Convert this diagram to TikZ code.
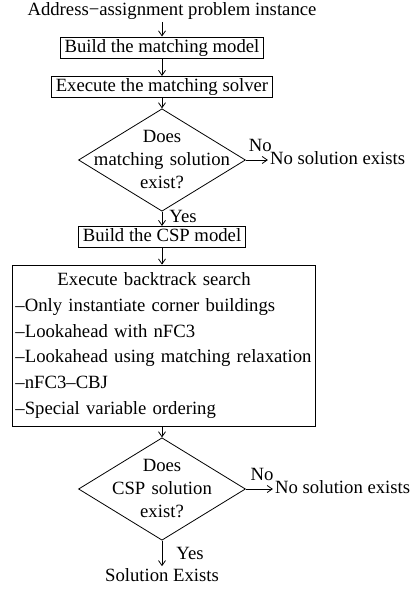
\documentclass[tikz,border=0pt]{standalone}
\usepackage{fontspec}
\setmainfont{Liberation Serif}
\usetikzlibrary{shapes.geometric, positioning, arrows.meta}
\tikzset{
    plain/.style = {inner sep=2pt, text height=13.1pt, text depth=4.1pt},
    process/.style = {rectangle, draw=black, line width=0.8pt, inner xsep=4.5pt, inner ysep=2pt, text height=13.1pt, text depth=4.1pt},
    listbox/.style = {rectangle, draw=black, line width=0.8pt, text width=296pt, align=left, inner xsep=3.5pt, inner ysep=7.5pt, font=\fontsize{18.7}{25.8}\selectfont},
    decision/.style = {diamond, aspect=1.63, draw=black, line width=0.8pt, text width=140pt, align=center, inner sep=-13pt},
    arrow/.style = {line width=0.8pt, ->, >={Straight Barb[length=5pt, width=7pt]}}
}
\begin{document}
\begin{tikzpicture}[x=1pt, y=1pt, font=\fontsize{18.7}{23}\selectfont]
\useasboundingbox (0,0) rectangle (412,-589);
\node (build) [process] at (162,-47.5) {Build the matching model};
\node (input) [plain, above of=build, node distance=36.5pt, xshift=10pt] {Address−assignment problem instance};
\node (solver) [process, below of=build, node distance=39.5pt] {Execute the matching solver};
\node (match) [decision, below of=solver, node distance=73pt] {Does\\matching solution\\exist?};
\node (nomatch) [plain, right=22pt of match] {No solution exists};
\node (csp) [process, below of=match, node distance=77pt] {Build the CSP model};
\node (backtrack) [listbox, below of=csp, node distance=108.5pt, xshift=1.5pt] {\hspace*{42pt}Execute backtrack search\\
    –Only instantiate corner buildings\\
    –Lookahead with nFC3\\
    –Lookahead using matching relaxation\\
    –nFC3–CBJ\\
    –Special variable ordering};
\node (found) [decision, below of=csp, node distance=252pt] {Does\\CSP solution\\exist?};
\node (nocsp) [plain, right=27pt of found] {No solution exists};
\node (done) [plain, below of=found, node distance=88pt] {Solution Exists};

\draw [arrow] (input.south -| build) -- (build);
\draw [arrow] (build) -- (solver);
\draw [arrow] (solver) -- (match);
\draw [arrow] (match) -- node[above=7pt, pos=0.65, inner sep=1pt] {No} (nomatch);
\draw [arrow] (match) -- node[right, pos=0.35, inner xsep=7pt, inner ysep=0pt] {Yes} (csp);
\draw [arrow] (csp) -- (csp |- backtrack.north);
\draw [arrow] (found |- backtrack.south) -- (found);
\draw [arrow] (found) -- node[above=7pt, pos=0.6, inner sep=1pt] {No} (nocsp);
\draw [arrow] (found) -- node[right, inner xsep=14pt, inner ysep=0pt] {Yes} (done);
\end{tikzpicture}
\end{document}
